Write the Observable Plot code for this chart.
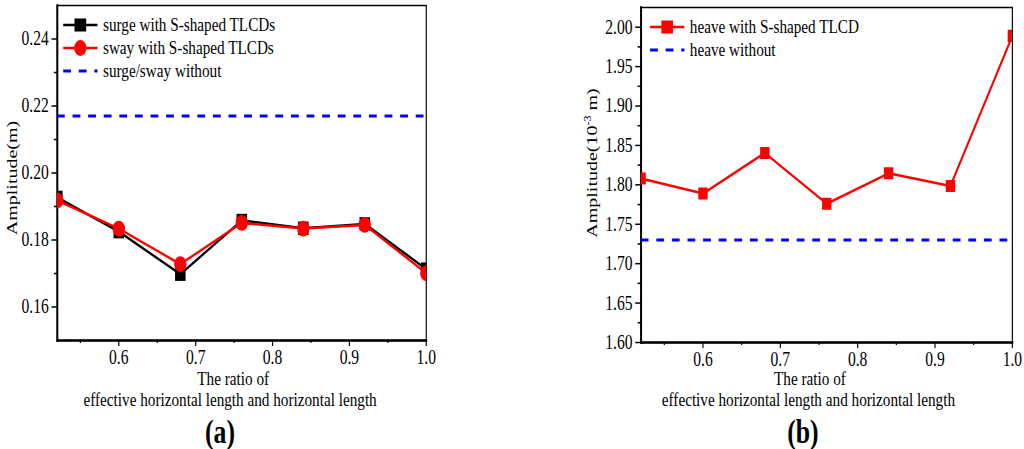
<!DOCTYPE html>
<html>
<head>
<meta charset="utf-8">
<script src="https://cdn.jsdelivr.net/npm/d3@7"></script>
<script src="https://cdn.jsdelivr.net/npm/@observablehq/plot@0.6"></script>
<style>
  body { margin: 0; background: #fff; width: 1024px; height: 449px; overflow: hidden; position: relative;
         font-family: "Liberation Serif", "Tinos", "DejaVu Serif", serif; color: #000; }
  /* the figure is horizontally squeezed, so each panel is drawn wider and scaled back */
  .panel { position: absolute; top: 0; width: 656px; height: 449px; transform: scaleX(0.78); transform-origin: 0 0; }
  .panel svg.plot { position: absolute; left: 0; top: 0; overflow: visible; }
  .txt { position: absolute; white-space: nowrap; line-height: 1; font-size: 19.5px; }
  .center { transform: translate(-50%, -50%); }
  .tight { line-height: 0.7; }
  .leftmid { transform: translate(0, -50%); }
  .rot { transform: translate(-50%, -50%) rotate(-90deg); font-size: 20px; }
  .tag { font-size: 33px; font-weight: bold; }
  .legend { position: absolute; left: 0; top: 0; }
</style>
</head>
<body>
<div id="pa" class="panel" style="left:0px"></div>
<div id="pb" class="panel" style="left:512px"></div>
<script>
// ratio of effective horizontal length and horizontal length
var ratio = [0.52, 0.60, 0.68, 0.76, 0.84, 0.92, 1.00];

// panel (a) amplitudes in m
var surgeWith = [0.1927, 0.1825, 0.1698, 0.1858, 0.1835, 0.1848, 0.1713];
var swayWith = [0.1918, 0.1834, 0.1728, 0.1851, 0.1834, 0.1845, 0.1701];
var surgeSwayWithout = [0.217];

// panel (b) amplitudes in 10^-3 m
var heaveWith = [1.808, 1.789, 1.8405, 1.776, 1.8146, 1.7986, 1.989];
var heaveWithout = [1.730];

var xTicks = [0.6, 0.7, 0.8, 0.9, 1.0];
var xMinor = [0.55, 0.65, 0.75, 0.85, 0.95];
var yTicksA = [0.16, 0.18, 0.20, 0.22, 0.24];
var yMinorA = [0.17, 0.19, 0.21, 0.23];
var yTicksB = [1.60, 1.65, 1.70, 1.75, 1.80, 1.85, 1.90, 1.95, 2.00];
var yMinorB = [1.625, 1.675, 1.725, 1.775, 1.825, 1.875, 1.925, 1.975];

var legendA = ["surge with S-shaped TLCDs", "sway  with S-shaped TLCDs", "surge/sway without"];
var legendB = ["heave with S-shaped TLCD", "heave without"];

var RED = "#ff0000", BLUE = "#0000ff", BLACK = "#000000";
var PW = 656, PH = 372;

var rowsA = ratio.map(function(r, i) { return { ratio: r, surge: surgeWith[i], sway: swayWith[i] }; });
var rowsB = ratio.map(function(r, i) { return { ratio: r, heave: heaveWith[i] }; });

function noLabel() { return ""; }

function axes(yTicks, yMinor) {
    return [
        Plot.axisX(xTicks, { tickSize: 6, tickPadding: 3, strokeWidth: 1.5, tickFormat: ".1f", fontSize: 20 }),
        Plot.axisX(xMinor, { tickSize: 3, strokeWidth: 1.5, tickFormat: noLabel }),
        Plot.axisY(yTicks, { tickSize: 7, tickPadding: 4, strokeWidth: 1.5, tickFormat: ".2f", fontSize: 20 }),
        Plot.axisY(yMinor, { tickSize: 4, strokeWidth: 1.5, tickFormat: noLabel }),
        Plot.frame({ strokeWidth: 1.5 }),
        Plot.frame({ anchor: "left", strokeWidth: 2.5 }),
        Plot.frame({ anchor: "bottom", strokeWidth: 2.5 })
    ];
}

function plotOptions(o) {
    return {
        width: PW,
        height: PH,
        marginTop: o.top,
        marginBottom: PH - o.bottom,
        marginLeft: o.left,
        marginRight: PW - o.right,
        x: { domain: [0.52, 1.0], label: null },
        y: { domain: o.yDomain, label: null },
        style: { fontFamily: "'Liberation Serif', 'Tinos', 'DejaVu Serif', serif", color: "#000", background: "transparent", overflow: "visible" },
        marks: o.marks
    };
}

var plotA = Plot.plot(plotOptions({
    top: 5, bottom: 340, left: 73, right: 546, yDomain: [0.15, 0.25],
    marks: axes(yTicksA, yMinorA).concat([
        Plot.ruleY(surgeSwayWithout, { stroke: BLUE, strokeWidth: 3, strokeDasharray: "10,10" }),
        Plot.line(rowsA, { x: "ratio", y: "surge", stroke: BLACK, strokeWidth: 2.5, clip: true }),
        Plot.dot(rowsA, { x: "ratio", y: "surge", symbol: "square", r: 7.6, fill: BLACK, stroke: "none", clip: true }),
        Plot.line(rowsA, { x: "ratio", y: "sway", stroke: RED, strokeWidth: 2.5, clip: true }),
        Plot.dot(rowsA, { x: "ratio", y: "sway", r: 7.9, fill: RED, stroke: "none", clip: true })
    ])
}));

var plotB = Plot.plot(plotOptions({
    top: 7, bottom: 342, left: 165, right: 641, yDomain: [1.60, 2.025],
    marks: axes(yTicksB, yMinorB).concat([
        Plot.ruleY(heaveWithout, { stroke: BLUE, strokeWidth: 3, strokeDasharray: "10,10" }),
        Plot.line(rowsB, { x: "ratio", y: "heave", stroke: RED, strokeWidth: 2.5, clip: true }),
        Plot.dot(rowsB, { x: "ratio", y: "heave", symbol: "square", r: 6.8, fill: RED, stroke: "none", clip: true })
    ])
}));

function addText(panel, str, x, y, cls, html) {
    var d = document.createElement("div");
    d.className = "txt " + cls;
    d.style.left = x + "px";
    d.style.top = y + "px";
    if (html) d.innerHTML = str; else d.textContent = str;
    panel.appendChild(d);
    return d;
}

// legend: swatch line + marker, then label
function addLegend(panel, entries) {
    var svg = d3.select(panel).append("svg").attr("class", "legend").attr("width", PW).attr("height", 100);
    entries.forEach(function(e) {
        var g = svg.append("g");
        g.append("line").attr("x1", e.x0).attr("x2", e.x1).attr("y1", e.y).attr("y2", e.y)
            .attr("stroke", e.color).attr("stroke-width", e.dash ? 3 : 2.5)
            .attr("stroke-dasharray", e.dash ? "10,10" : null);
        var cx = (e.x0 + e.x1) / 2;
        if (e.marker === "square") {
            g.append("rect").attr("x", cx - 7.5).attr("y", e.y - 6.5).attr("width", 15).attr("height", 13).attr("fill", e.color);
        } else if (e.marker === "circle") {
            g.append("circle").attr("cx", cx).attr("cy", e.y).attr("r", 7.9).attr("fill", e.color);
        }
        addText(panel, e.label, e.x1 + 7, e.y, "leftmid");
    });
}

var pa = document.getElementById("pa");
var pb = document.getElementById("pb");
plotA.classList.add("plot");
plotB.classList.add("plot");
pa.appendChild(plotA);
pb.appendChild(plotB);

addLegend(pa, [
    { label: legendA[0], color: BLACK, marker: "square", x0: 81, x1: 125, y: 25 },
    { label: legendA[1], color: RED, marker: "circle", x0: 81, x1: 125, y: 48 },
    { label: legendA[2], color: BLUE, dash: true, x0: 81, x1: 125, y: 71 }
]);
addLegend(pb, [
    { label: legendB[0], color: RED, marker: "square", x0: 177, x1: 221, y: 27 },
    { label: legendB[1], color: BLUE, dash: true, x0: 177, x1: 221, y: 50 }
]);

addText(pa, "Amplitude(m)", 15, 178, "rot");
addText(pb, "Amplitude(10<sup style=\"font-size:12px;vertical-align:8px\">-3</sup> m)", 102, 163, "rot", true);

addText(pa, "The ratio of", 299, 379, "center tight");
addText(pa, "effective horizontal length and horizontal length", 295, 400, "center");
addText(pa, "(a)", 282, 432, "center tag");
addText(pb, "The ratio of", 382, 379, "center tight");
addText(pb, "effective horizontal length and horizontal length", 380, 400, "center");
addText(pb, "(b)", 373, 432, "center tag");
</script>
</body>
</html>
